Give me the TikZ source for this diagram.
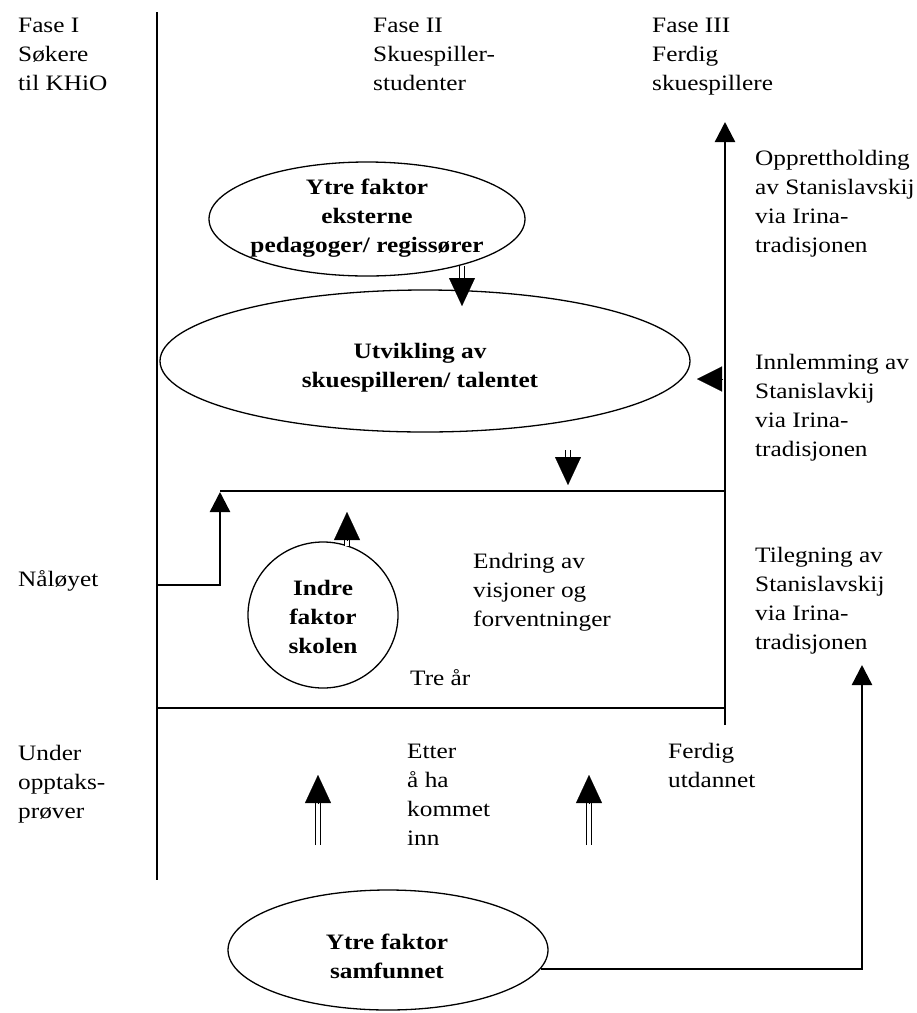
\documentclass[tikz,border=0pt]{standalone}
\usepackage{fontspec}
\setmainfont{Liberation Serif}[FakeStretch=1.15]
\usetikzlibrary{arrows.meta,shapes.geometric}
\begin{document}
\begin{tikzpicture}[x=1pt,y=-1pt,
  txt/.style={anchor=north west, inner sep=0pt, align=left,
    font=\fontsize{22}{29}\selectfont},
  ctr/.style={inner sep=0pt, align=center, font=\fontsize{22}{29}\selectfont\bfseries},
  oval/.style={draw, ellipse, line width=1.3pt, inner sep=0pt},
  bar/.style={line width=2.4pt},
  smallhead/.style={-{Triangle[width=20pt,length=20pt]}},
  bighead/.style={line width=0.1pt, -{Triangle[width=26pt,length=28pt]}},
  sidehead/.style={line width=0.1pt, -{Triangle[width=25pt,length=25pt]}},
  dblshaft/.style={double=white, double distance=4.5pt, line width=1.2pt}]
\useasboundingbox (0,0) rectangle (917,1013);

% phase headings
\node[txt] (fase1) at (18,18) {Fase I\\Søkere\\til KHiO};
\node[txt] (fase2) at (373,18) {Fase II\\Skuespiller-\\studenter};
\node[txt] (fase3) at (652,18) {Fase III\\Ferdig\\skuespillere};

% left column labels
\node[txt] (eyelbl) at (18,570) {Nåløyet};
\node[txt] (underlbl) at (18,745) {Under\\opptaks-\\prøver};

% right column labels
\node[txt] (keep) at (755,150) {Opprettholding\\av Stanislavskij\\via Irina-\\tradisjonen};
\node[txt] (incl) at (755,354) {Innlemming av\\Stanislavkij\\via Irina-\\tradisjonen};
\node[txt] (acq) at (755,547) {Tilegning av\\Stanislavskij\\via Irina-\\tradisjonen};

% inner labels
\node[txt] (change) at (473,553) {Endring av\\visjoner og\\forventninger};
\node[txt] (three) at (410,669) {Tre år};
\node[txt] (after) at (407,744) {Etter\\å ha\\kommet\\inn};
\node[txt] (done) at (668,743) {Ferdig\\utdannet};

% ovals
\node[oval, minimum width=316pt, minimum height=114pt] (ext) at (367,219) {};
\node[ctr] (extT) at (367,218) {Ytre faktor\\eksterne\\pedagoger/ regissører};
\node[oval, minimum width=530pt, minimum height=142pt] (dev) at (425,361) {};
\node[ctr] (devT) at (420,368) {Utvikling av\\skuespilleren/ talentet};
\node[oval, minimum width=150pt, minimum height=146pt] (school) at (323,615) {};
\node[ctr] (schoolT) at (323,617) {Indre\\faktor\\skolen};
\node[oval, minimum width=320pt, minimum height=120pt] (soc) at (388,950) {};
\node[ctr] (socT) at (387,956) {Ytre faktor\\samfunnet};

% frame lines
\coordinate (axisTop) at (157,12);
\coordinate (axisBot) at (157,880);
\coordinate (eye) at (157,585);
\coordinate (stepTop) at (220,492);
\coordinate (boxTL) at (220,491);
\coordinate (boxTR) at (725,491);
\coordinate (boxBL) at (157,708);
\coordinate (boxBR) at (725,708);
\coordinate (endBot) at (725,725);
\coordinate (endTop) at (725,122);
\draw[bar] (axisTop) -- (axisBot);
\draw[bar] (boxTL) -- (boxTR);
\draw[bar] (boxBL) -- (boxBR);
\draw[bar, smallhead] (eye) -| (stepTop);
\draw[bar, smallhead] (endBot) -- (endTop);

% society feeds the right column
\coordinate (acqTip) at (862,665);
\draw[bar, smallhead] (soc.-7) -| (acqTip);

% arrow from the right column into the development oval
\coordinate (sideBase) at (723,379);
\coordinate (sideTip) at (697,379);
\draw[sidehead] (sideBase) -- (sideTip);

% double-shafted arrows
\coordinate (a1s) at (462,266); \coordinate (a1b) at (462,279); \coordinate (a1t) at (462,306);
\draw[dblshaft] (a1s) -- ([yshift=-2pt]a1b);
\draw[bighead] (a1b) -- (a1t);

\coordinate (a2s) at (568,450); \coordinate (a2b) at (568,462); \coordinate (a2t) at (568,485);
\draw[dblshaft] (a2s) -- ([yshift=-2pt]a2b);
\draw[bighead] (a2b) -- (a2t);

\coordinate (a3s) at (347,546); \coordinate (a3b) at (347,540); \coordinate (a3t) at (347,512);
\draw[dblshaft] (a3s) -- ([yshift=2pt]a3b);
\draw[bighead] (a3b) -- (a3t);

\coordinate (a4s) at (318,845); \coordinate (a4b) at (318,804); \coordinate (a4t) at (318,775);
\draw[dblshaft] (a4s) -- ([yshift=2pt]a4b);
\draw[bighead] (a4b) -- (a4t);

\coordinate (a5s) at (589,845); \coordinate (a5b) at (589,804); \coordinate (a5t) at (589,775);
\draw[dblshaft] (a5s) -- ([yshift=2pt]a5b);
\draw[bighead] (a5b) -- (a5t);
\end{tikzpicture}
\end{document}
